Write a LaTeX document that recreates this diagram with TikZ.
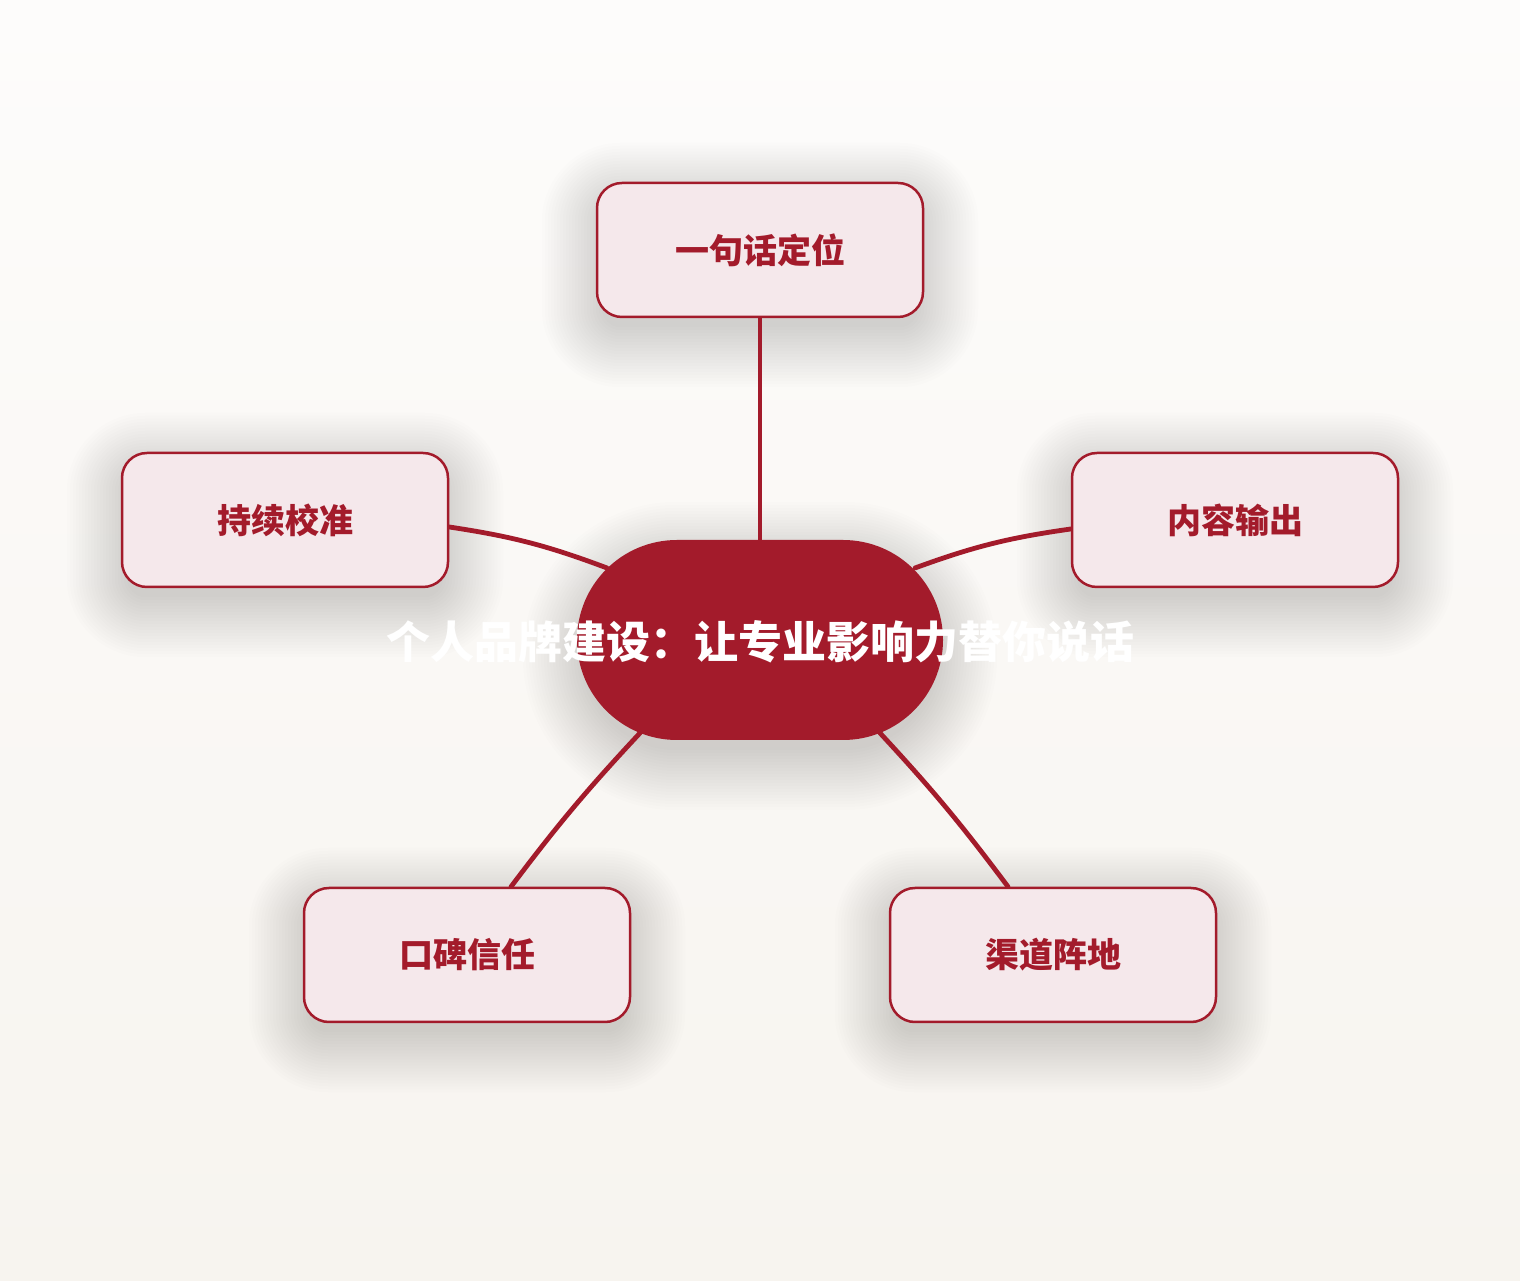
\documentclass[tikz,border=0pt]{standalone}
\usepackage{fontspec}
\newfontfamily\cjk{Noto Sans CJK SC}
\usetikzlibrary{calc}
\pgfdeclarelayer{bglayer}
\pgfdeclarelayer{shadowlayer}
\pgfdeclarelayer{linklayer}
\pgfsetlayers{bglayer,shadowlayer,linklayer,main}
\definecolor{brand}{HTML}{A31B2B}
\definecolor{pinkfill}{HTML}{F5E8EB}
\definecolor{bgtop}{HTML}{FDFCFB}
\definecolor{bgbot}{HTML}{F7F4EF}
\tikzset{
  leafbox/.style={draw=brand, line width=2.5pt, fill=pinkfill, rounded corners=25pt,
    minimum width=326pt, minimum height=134pt, inner sep=0pt,
    font=\cjk\bfseries\fontsize{34}{40}\selectfont, text=brand},
  hubbox/.style={fill=brand, rounded corners=100pt, minimum width=366pt, minimum height=200pt, inner sep=0pt},
  hubtext/.style={font=\cjk\bfseries\fontsize{44}{50}\selectfont, text=white, inner sep=0pt},
  link/.style={draw=brand, line width=4.8pt, line cap=round},
  shadowpiece/.style={fill=black, opacity=0.0075}
}
\newcommand\softshadow[3]{%
  \foreach \e in {-6,-3,...,54} {%
    \pgfmathsetmacro\rr{max(#2+\e,1)}%
    \fill[shadowpiece, rounded corners=\rr pt] ($(#1.south west)+(-\e,-\e-#3)$) rectangle ($(#1.north east)+(\e,\e-#3)$);
  }%
}
\begin{document}
\begin{tikzpicture}[x=1pt,y=1pt]
\begin{pgfonlayer}{bglayer}
\shade[top color=bgtop, bottom color=bgbot] (0,0) rectangle (1520,1280);
\end{pgfonlayer}
\useasboundingbox (0,0) rectangle (1520,1280);
\node[hubbox] (c) at (760,640) {};
\node[leafbox] (t) at (760,1030) {\raisebox{-2pt}{一句话定位}};
\node[leafbox] (l) at (285,760) {\raisebox{-2pt}{持续校准}};
\node[leafbox] (r) at (1235,760) {\raisebox{-2pt}{内容输出}};
\node[leafbox] (bl) at (467,325) {\raisebox{-2pt}{口碑信任}};
\node[leafbox] (br) at (1053,325) {\raisebox{-2pt}{渠道阵地}};
\begin{pgfonlayer}{shadowlayer}
\softshadow{c}{100}{16}
\softshadow{t}{25}{15}
\softshadow{l}{25}{15}
\softshadow{r}{25}{15}
\softshadow{bl}{25}{15}
\softshadow{br}{25}{15}
\end{pgfonlayer}
\begin{pgfonlayer}{linklayer}
\draw[link] (t.south) -- (c.north);
\draw[link] ($(l.east)+(0,-7)$) to[bend left=6] ($(c.center)+(-153,72)$);
\draw[link] ($(r.west)+(0,-9)$) to[bend right=6] ($(c.center)+(155,72)$);
\draw[link] ($(bl.north)+(44,0)$) to[bend left=3] ($(c.center)+(-120,-93)$);
\draw[link] ($(br.north)+(-45,0)$) to[bend right=3] ($(c.center)+(120,-93)$);
\end{pgfonlayer}
\node[hubtext] (ct) at ($(c.center)+(0,-2)$) {个人品牌建设：让专业影响力替你说话};
\end{tikzpicture}
\end{document}
